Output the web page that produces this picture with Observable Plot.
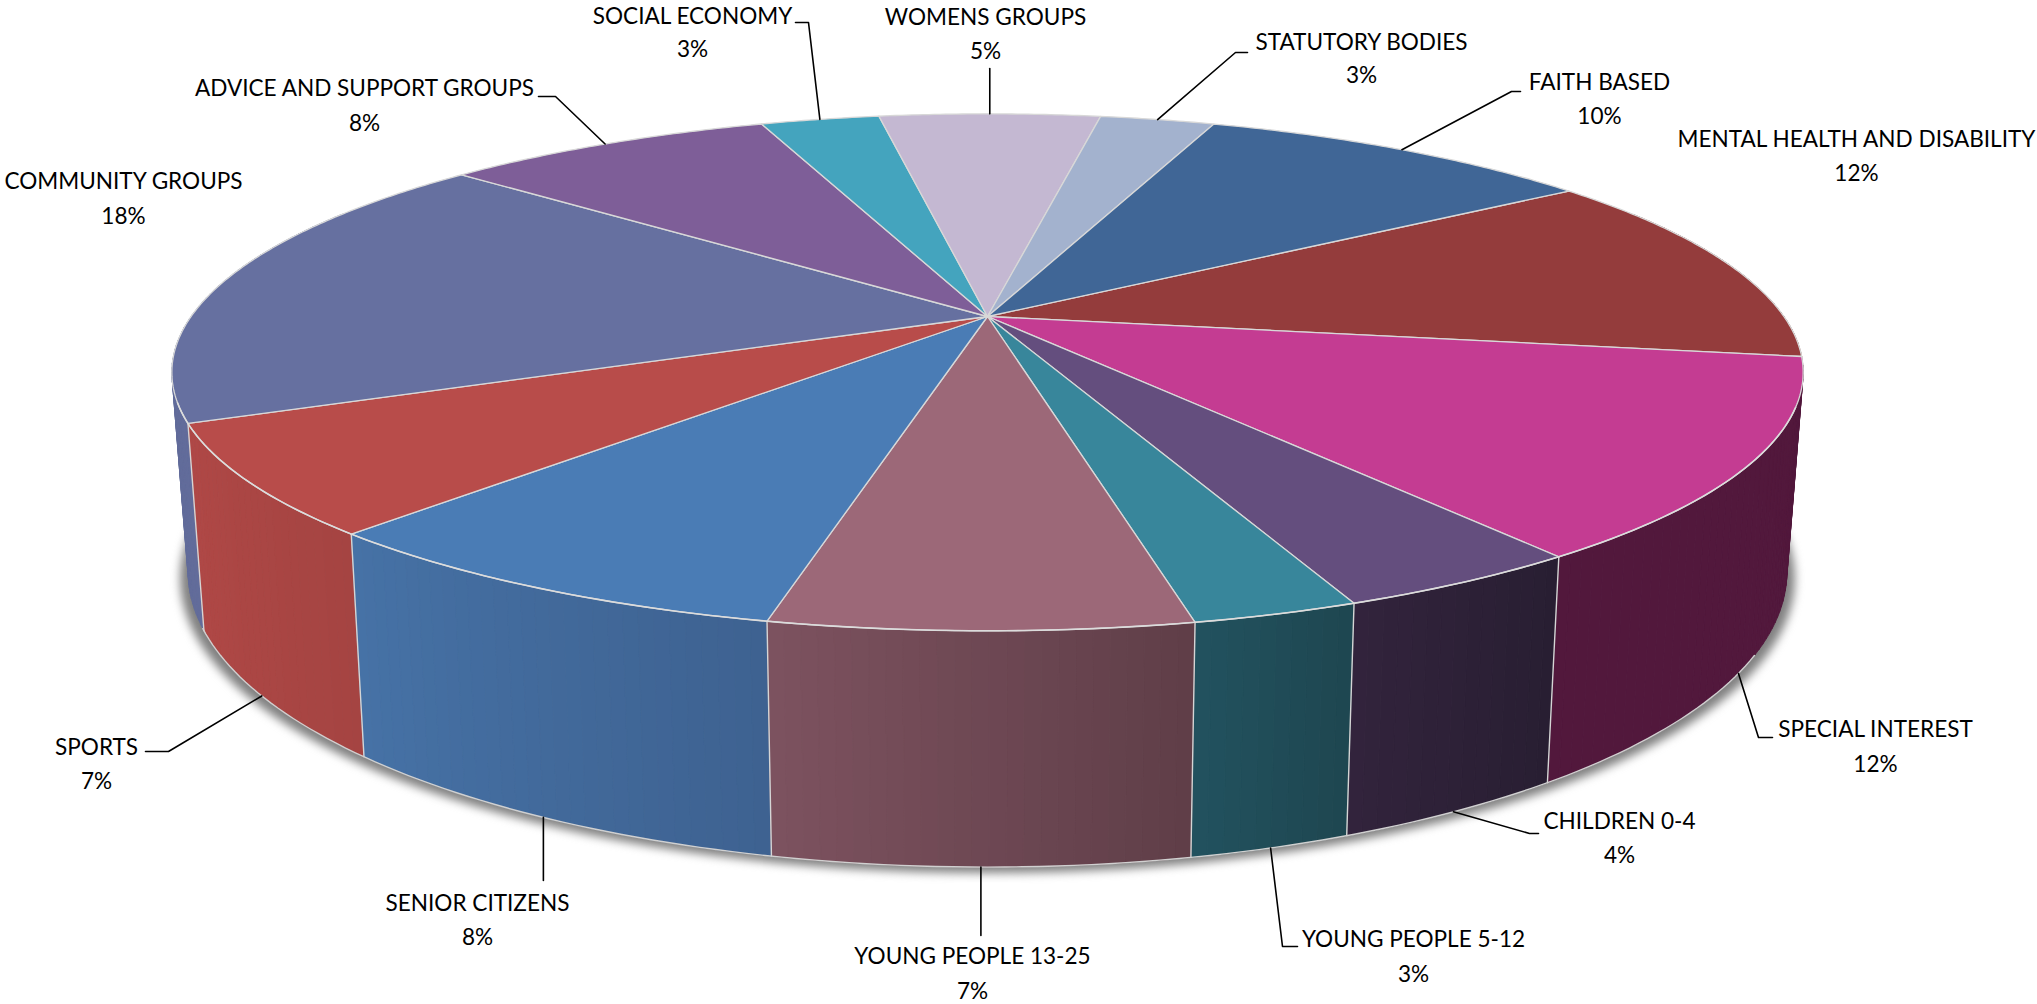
<!DOCTYPE html>
<html><head><meta charset="utf-8">
<script src="https://cdn.jsdelivr.net/npm/d3@7"></script>
<script src="https://cdn.jsdelivr.net/npm/@observablehq/plot@0.6"></script>
<style>html,body{margin:0;padding:0;background:#fff;overflow:hidden}</style>
</head><body><div id="chart"></div>
<script>
// Data, clockwise from the start angle
const categories = ["MENTAL HEALTH AND DISABILITY","SPECIAL INTEREST","CHILDREN 0-4","YOUNG PEOPLE 5-12","YOUNG PEOPLE 13-25","SENIOR CITIZENS","SPORTS","COMMUNITY GROUPS","ADVICE AND SUPPORT GROUPS","SOCIAL ECONOMY","WOMENS GROUPS","STATUTORY BODIES","FAITH BASED"];
const shares = [12.2,12.4,4.1,2.7,6.8,8.2,6.8,17.9,8.05,2.9,5.4,2.8,9.75];

// Styles
const topColors = ["#943c3c","#c43c92","#644e7e","#38869b","#9c6878","#4a7cb5","#b84c4a","#6670a0","#7e5e98","#44a4be","#c4b8d2","#a3b2ce","#406696"];
const sideStart = ["#7a2e2e","#52183c","#32233c","#22525f","#7d525f","#4672a6","#b04846","#626c9b","#6a4f80","#38889e","#a598b0","#8896ad","#365680"];
const sideEnd   = ["#7a2e2e","#52183c","#281e32","#1e4650","#5f3e48","#3e6291","#a54442","#626c9b","#6a4f80","#38889e","#a598b0","#8896ad","#365680"];
const startAngle = 55.1;
const labelAt = [[1856,139,173],[1875,729,764],[1619,821,855],[1413,939,974],[972,956,991],[477,903,937],[96,747,781],[123,181,216],[364,88,123],[692,16,49],[985,17,51],[1361,42,75],[1599,82,116]];
// Leader bends; a null x keeps the leader vertical
const elbows = [null,[[1758,737],[1772,737]],[[1529,833],[1538,833]],[[1282,946],[1297,946]],[[null,935]],[[null,880]],[[168,751],[145,751]],null,[[555,96],[538,96]],[[808,22],[795,22]],[[null,68]],[[1235,52],[1247,52]],[[1511,91],[1520,91]]];
const textSqueeze = 0.94;

// Perspective model of the disc, in screen units
const cx = 987, cy = 316, A = 796.4, B = 246.4, K = 0.216, DEPTH = 192.3, SX = 0.98, SY = 1.14;
const rad = d => d * Math.PI / 180;
function topPt(deg){ const u = Math.sin(rad(deg)), v = -Math.cos(rad(deg)), w = 1 - K * v; return [A * u / w, B * v / w, v]; }
const T = d => { const [X, Y] = topPt(d); return {x: cx + X, y: cy + Y}; };
const S = d => { const [X, Y] = topPt(d); return {x: cx + SX * X, y: cy + SY * Y + DEPTH}; };

const total = d3.sum(shares);
let acc = startAngle;
const wedges = categories.map((name, i) => {
  const a0 = acc, a1 = acc + shares[i] / total * 360; acc = a1;
  return {name, i, a0, a1, mid: (a0 + a1) / 2, pct: Math.round(shares[i])};
});

// Top faces
const topRows = wedges.flatMap(w => {
  const n = Math.ceil(w.a1 - w.a0) * 2, pts = [{x: cx, y: cy}];
  for (let k = 0; k <= n; k++) pts.push(T(w.a0 + (w.a1 - w.a0) * k / n));
  pts.push({x: cx, y: cy});
  return pts.map(p => ({...p, key: w.name, color: topColors[w.i]}));
});

// Side faces as thin shaded strips, far ones first; colours run left to right on screen
const strips = wedges.flatMap(w => {
  const n = Math.max(2, Math.ceil(w.a1 - w.a0));
  const col = d3.interpolateRgb(sideStart[w.i], sideEnd[w.i]);
  return d3.range(n).map(k => {
    const d0 = w.a0 + (w.a1 - w.a0) * k / n, d1 = w.a0 + (w.a1 - w.a0) * (k + 1) / n;
    return {d0, d1, color: col(1 - (k + .5) / n), v: -Math.cos(rad((d0 + d1) / 2)), key: w.name + k};
  });
}).filter(s => s.v > -0.45).sort((a, b) => a.v - b.v);
const stripRows = strips.flatMap(s => [T(s.d0), T(s.d1), S(s.d1), S(s.d0), T(s.d0)].map(p => ({...p, key: s.key, color: s.color})));

// Edges on the sides
const edgeRows = wedges.filter(w => w.a0 > 100 && w.a0 < 270).flatMap(w => [T(w.a0), S(w.a0)].map(p => ({...p, key: w.name})));
const rimRows = d3.range(118, 247.5, 1).map(d => S(d));
const topRimRows = d3.range(110, 252, 1).map(d => T(d));

// Shadow below the disc
const shadowRows = d3.range(0, 361, 2).map(d => { const p = S(d); return {x: cx + (p.x - cx) * 1.01, y: p.y + 6}; });

// Labels
const labels = wedges.flatMap(w => {
  const [x, y1, y2] = labelAt[w.i];
  return [{x, y: y1, text: w.name}, {x, y: y2, text: w.pct + "%"}];
});
const leaders = wedges.filter(w => elbows[w.i]).flatMap(w => {
  const front = w.mid > 95 && w.mid < 265;
  const start = front ? S(w.mid) : T(w.mid);
  return [start, ...elbows[w.i].map(([x, y]) => ({x: x ?? start.x, y}))].map(p => ({...p, key: w.name}));
});

const chart = Plot.plot({
  width: 2037, height: 1004, margin: 0,
  x: {domain: [0, 2037], range: [0, 2037], axis: null},
  y: {domain: [0, 1004], range: [0, 1004], axis: null},
  color: {type: "identity"},
  style: {background: "#fff", fontFamily: "Lato, 'Open Sans', sans-serif"},
  marks: [
    Plot.line(shadowRows, {x: "x", y: "y", fill: "#808080", stroke: "none", imageFilter: "blur(5px)"}),
    Plot.line(stripRows, {x: "x", y: "y", z: "key", fill: "color", stroke: "color", strokeWidth: 0.8}),
    Plot.line(edgeRows, {x: "x", y: "y", z: "key", stroke: "#d5d5d5", strokeWidth: 1.4}),
    Plot.line(rimRows, {x: "x", y: "y", stroke: "#d0d0d0", strokeWidth: 1.4}),
    Plot.line(topRows, {x: "x", y: "y", z: "key", fill: "color", stroke: "#d8d8d8", strokeWidth: 1.3, strokeLinejoin: "round"}),
    Plot.line(topRimRows, {x: "x", y: "y", stroke: "#dcdcdc", strokeWidth: 1.6}),
    Plot.line(leaders, {x: "x", y: "y", z: "key", stroke: "#000", strokeWidth: 1.6}),
    Plot.text(labels, {x: "x", y: "y", text: "text", fontSize: 24, fill: "#000", textAnchor: "middle", lineAnchor: "middle"})
  ]
});
document.getElementById("chart").appendChild(chart);
// Calibri-like narrower set width for the Lato labels
chart.querySelectorAll("text").forEach(t => {
  t.setAttribute("textLength", t.getComputedTextLength() * textSqueeze);
  t.setAttribute("lengthAdjust", "spacingAndGlyphs");
});
</script>
</body></html>
